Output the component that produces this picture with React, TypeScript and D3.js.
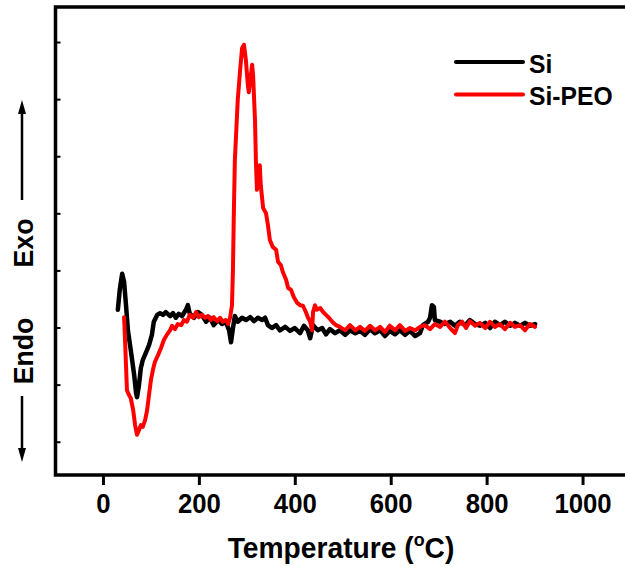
import React from "react";
import * as d3 from "d3";

// Temperature (°C) and heat-flow signal (a.u.)
const siTemp = [30,34,39,43,47,51,57,64,68,70,74,78,82,89,95,101,105,112,118,124,130,139,145,151,157,164,172,176,180,189,197,205,214,222,230,239,247,255,262,266,270,274,280,289,297,306,314,322,331,337,343,351,360,368,379,389,399,410,418,426,431,437,447,456,464,472,483,493,504,514,525,535,545,556,566,577,587,597,608,618,629,639,650,660,666,677,681,685,689,691,702,712,723,733,743,754,764,775,785,796,806,816,827,837,848,858,869,879,889,900];
const siValue = [0.32,0.67,0.95,0.81,0.40,-0.04,-0.39,-0.82,-1.14,-1.21,-1.00,-0.70,-0.56,-0.42,-0.30,-0.12,0.11,0.23,0.26,0.23,0.28,0.21,0.26,0.18,0.25,0.21,0.32,0.40,0.25,0.18,0.28,0.23,0.11,0.18,0.05,0.14,0.07,0.11,-0.04,-0.25,0.00,0.21,0.11,0.18,0.14,0.19,0.12,0.18,0.14,0.18,0.05,0.00,0.05,-0.04,0.02,-0.05,0.00,-0.09,0.04,-0.04,-0.18,0.05,-0.04,0.00,-0.11,-0.02,-0.09,-0.04,-0.12,-0.04,-0.09,-0.05,-0.12,-0.02,-0.09,-0.04,-0.14,-0.05,-0.11,-0.04,-0.12,-0.05,-0.14,-0.09,0.05,0.11,0.18,0.40,0.37,0.14,0.11,0.07,0.11,0.04,0.11,0.05,0.14,0.07,0.04,0.09,0.00,0.11,0.05,0.11,0.04,0.09,0.04,0.09,0.04,0.07];

const peoTemp = [43,45,47,49,53,57,62,66,70,74,78,82,87,91,95,99,103,107,114,120,126,132,139,143,149,155,162,168,174,180,187,193,199,205,212,218,224,230,237,243,249,255,260,264,268,270,272,274,276,280,285,289,293,297,301,303,306,310,312,316,318,320,324,326,328,333,339,343,347,353,360,364,370,374,381,385,391,397,404,410,416,422,426,431,435,437,441,445,452,458,464,470,477,485,493,504,514,525,535,545,556,566,577,587,597,608,618,629,639,650,660,670,681,691,702,712,723,733,739,748,756,764,775,785,796,806,816,827,837,848,858,869,879,889,900];
const peoValue = [0.19,-0.21,-0.65,-1.09,-1.17,-1.23,-1.44,-1.70,-1.87,-1.79,-1.70,-1.73,-1.61,-1.44,-1.17,-0.91,-0.74,-0.60,-0.47,-0.35,-0.21,-0.12,-0.04,0.04,-0.02,0.07,0.05,0.14,0.11,0.23,0.18,0.28,0.19,0.23,0.18,0.21,0.14,0.19,0.12,0.18,0.11,0.14,0.07,0.18,0.40,1.02,2.07,2.94,3.29,3.99,4.52,4.90,4.96,4.69,4.26,4.13,4.34,4.61,4.43,3.64,2.89,2.42,2.77,2.85,2.50,2.10,2.01,1.80,1.54,1.42,1.37,1.16,1.10,0.98,0.84,0.70,0.67,0.54,0.44,0.40,0.39,0.28,0.19,0.11,-0.04,0.28,0.40,0.32,0.35,0.28,0.23,0.18,0.11,0.05,0.02,-0.04,0.05,-0.04,0.02,-0.05,0.04,-0.04,0.02,-0.07,0.04,-0.04,0.05,-0.05,0.00,-0.04,0.02,0.05,-0.02,0.07,0.02,0.11,0.00,-0.09,0.05,0.11,0.00,0.12,0.04,0.09,0.00,0.11,0.02,0.07,-0.02,0.09,0.02,0.05,-0.04,0.07,0.02];

const xTicks = [0, 200, 400, 600, 800, 1000];
const yTicks = [-2, -1, 0, 1, 2, 3, 4, 5];
const seriesNames = ["Si", "Si-PEO"];
const seriesColors = ["#000000", "#ff0000"];

const W = 625, H = 567;
const left = 55.5, right = 631, top = 7, bottom = 475;
const FONT = "'Liberation Sans', Arial, Helvetica, sans-serif";

export default function App() {
  const x = d3.scaleLinear().domain([-100, 1100]).range([left, right]);
  const y = d3.scaleLinear().domain([-2.574, 5.622]).range([bottom, top]);
  const line = d3.line<[number, number]>().x(d => x(d[0])).y(d => y(d[1]));
  const siData = siTemp.map((t, i) => [t, siValue[i]] as [number, number]);
  const peoData = peoTemp.map((t, i) => [t, peoValue[i]] as [number, number]);

  return (
    <svg width={W} height={H} style={{ position: "absolute", left: 0, top: 0, background: "#fff" }} fontFamily={FONT}>
      <rect x={0} y={0} width={W} height={H} fill="#fff" />
      <defs>
        <clipPath id="plot">
          <rect x={left} y={top} width={right - left} height={bottom - top} />
        </clipPath>
      </defs>
      {yTicks.map(t => (
        <line key={t} x1={left} x2={left + 5} y1={y(t)} y2={y(t)} stroke="#000" strokeWidth={2} />
      ))}
      {xTicks.map(t => (
        <g key={t}>
          <line x1={x(t)} x2={x(t)} y1={bottom} y2={bottom + 10} stroke="#000" strokeWidth={3} />
          <text transform={`translate(${x(t)},513) scale(0.92,1)`} textAnchor="middle" fontSize={28} fontWeight="bold">{t}</text>
        </g>
      ))}
      <g clipPath="url(#plot)" fill="none" strokeLinejoin="round" strokeLinecap="round">
        <path d={line(siData) || ""} stroke={seriesColors[0]} strokeWidth={4.5} />
        <path d={line(peoData) || ""} stroke={seriesColors[1]} strokeWidth={4} />
      </g>
      <rect x={left} y={top} width={right - left} height={bottom - top} fill="none" stroke="#000" strokeWidth={3.5} />
      {seriesNames.map((n, i) => (
        <g key={n}>
          <line x1={456} x2={523} y1={62 + i * 32.5} y2={62 + i * 32.5} stroke={seriesColors[i]} strokeWidth={4} strokeLinecap="round" />
          <text transform={`translate(529,${73 + i * 32}) scale(0.95,1)`} fontSize={26} fontWeight="bold">{n}</text>
        </g>
      ))}
      <text transform="translate(341,558) scale(0.94,1)" textAnchor="middle" fontSize={30} fontWeight="bold">
        Temperature (<tspan fontSize={19} dy={-12}>o</tspan><tspan dy={12}>C)</tspan>
      </text>
      <text transform="translate(33,243) rotate(-90) scale(0.95,1)" textAnchor="middle" fontSize={28} fontWeight="bold">Exo</text>
      <text transform="translate(33,351) rotate(-90) scale(0.95,1)" textAnchor="middle" fontSize={28} fontWeight="bold">Endo</text>
      <line x1={22} x2={22} y1={200} y2={110} stroke="#000" strokeWidth={2.5} />
      <path d="M22,100 L18,114 L26,114 Z" fill="#000" />
      <line x1={22} x2={22} y1={396} y2={452} stroke="#000" strokeWidth={2.5} />
      <path d="M22,462 L18,448 L26,448 Z" fill="#000" />
    </svg>
  );
}
